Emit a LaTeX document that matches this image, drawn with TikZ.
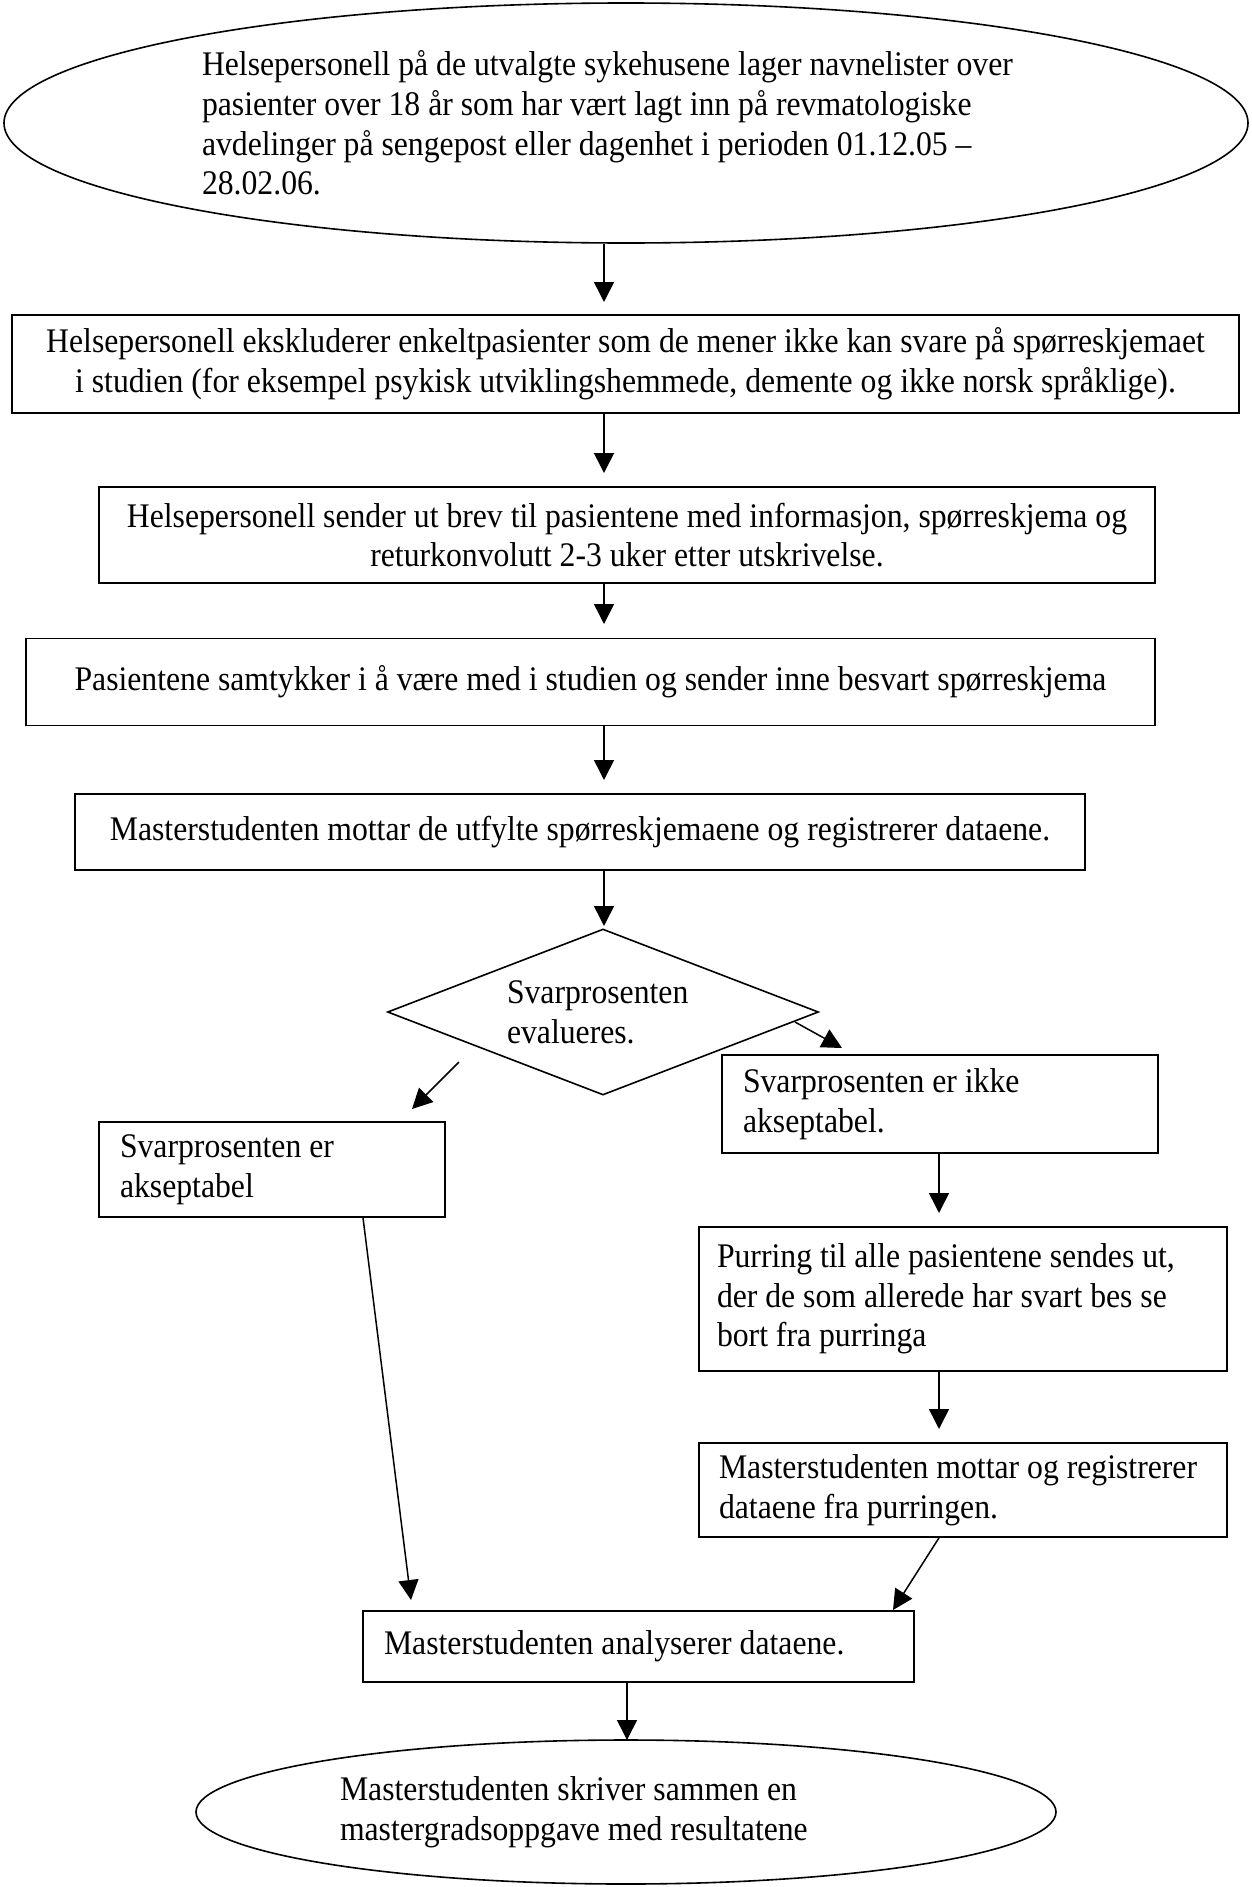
\documentclass[tikz,border=0pt]{standalone}
\usepackage{fontspec}
\setmainfont{Liberation Serif}[FakeStretch=0.919]
\usetikzlibrary{shapes.geometric,arrows.meta}
\begin{document}
\begin{tikzpicture}[x=1pt,y=-1pt,
  every node/.style={font=\fontsize{34.5}{39.7}\selectfont, inner sep=0pt,
    execute at begin node={\spaceskip=0pt\xspaceskip=0pt}},
  box/.style={draw, line width=1.6pt, rectangle},
  cbox/.style={box, align=center},
  lbox/.style={box, align=left, inner xsep=21pt},
  oval/.style={draw, line width=1.6pt, ellipse, align=left},
  arr/.style={-{Triangle[length=20pt,width=20pt]}, line width=1.5pt}]
\useasboundingbox (0,0) rectangle (1251,1887);

% nodes
\node[oval, minimum width=1244pt, minimum height=240pt, text width=848pt] (start) at (626,123)
 {Helsepersonell på de utvalgte sykehusene lager navnelister over\\
  pasienter over 18 år som har vært lagt inn på revmatologiske\\
  avdelinger på sengepost eller dagenhet i perioden 01.12.05 –\\
  28.02.06.};

\node[cbox, minimum width=1227pt, minimum height=98pt] (excl) at (625.5,364)
 {Helsepersonell ekskluderer enkeltpasienter som de mener ikke kan svare på spørreskjemaet\\
  i studien (for eksempel psykisk utviklingshemmede, demente og ikke norsk språklige).};

\node[cbox, minimum width=1056pt, minimum height=96pt] (send) at (627,535)
 {Helsepersonell sender ut brev til pasientene med informasjon, spørreskjema og\\
  returkonvolutt 2-3 uker etter utskrivelse.};

\node[cbox, minimum width=1129pt, minimum height=87pt] (samt) at (590.5,682)
 {Pasientene samtykker i å være med i studien og sender inne besvart spørreskjema};

\node[cbox, minimum width=1010pt, minimum height=76pt] (mottar) at (580,832)
 {Masterstudenten mottar de utfylte spørreskjemaene og registrerer dataene.};

\node[draw, line width=1.6pt, diamond, aspect=2.6, minimum width=431pt, minimum height=166pt,
      align=left, text width=192pt] (eval) at (603,1012)
 {Svarprosenten\\evalueres.};

\node[lbox, text width=304pt, minimum height=95pt] (acc) at (272,1169.5)
 {Svarprosenten er\\akseptabel};

\node[lbox, text width=394pt, minimum height=98pt] (notacc) at (940,1104)
 {Svarprosenten er ikke\\akseptabel.};

\node[lbox, inner xsep=18pt, text width=492pt, minimum height=144pt] (purr) at (963,1299)
 {\mbox{Purring til alle pasientene sendes ut,}\\
  \mbox{der de som allerede har svart bes se}\\
  bort fra purringa};

\node[lbox, inner xsep=20pt, text width=488pt, minimum height=94pt] (mottar2) at (963,1490)
 {Masterstudenten mottar og registrerer\\dataene fra purringen.};

\node[lbox, text width=509pt, minimum height=71pt] (analyse) at (638.5,1646.5)
 {Masterstudenten analyserer dataene.};

\node[oval, minimum width=860pt, minimum height=144pt, text width=572pt] (end) at (626,1812)
 {Masterstudenten skriver sammen en\\mastergradsoppgave med resultatene};

% arrow end points
\coordinate (t1) at (604,302);
\coordinate (t2) at (604,473);
\coordinate (t3) at (604,624);
\coordinate (t4) at (604,780);
\coordinate (t5) at (604,926);
\coordinate (s6) at (459,1062);
\coordinate (t6) at (412,1109);
\coordinate (s7) at (795,1022);
\coordinate (t7) at (842,1048);
\coordinate (t8) at (939,1213);
\coordinate (t9) at (939,1429);
\coordinate (s10) at (939,1537);
\coordinate (t10) at (893,1610);
\coordinate (s11) at (363,1217);
\coordinate (t11) at (411,1600);
\coordinate (t12) at (627,1740);

% connectors
\draw[arr] (start.south -| t1) -- (t1);
\draw[arr] (excl.south -| t2) -- (t2);
\draw[arr] (send.south -| t3) -- (t3);
\draw[arr] (samt.south -| t4) -- (t4);
\draw[arr] (mottar.south -| t5) -- (t5);
\draw[arr] (s6) -- (t6);
\draw[arr] (s7) -- (t7);
\draw[arr] (notacc.south -| t8) -- (t8);
\draw[arr] (purr.south -| t9) -- (t9);
\draw[arr] (mottar2.south -| s10) -- (t10);
\draw[arr] (acc.south -| s11) -- (t11);
\draw[arr] (analyse.south -| t12) -- (t12);
\end{tikzpicture}
\end{document}
